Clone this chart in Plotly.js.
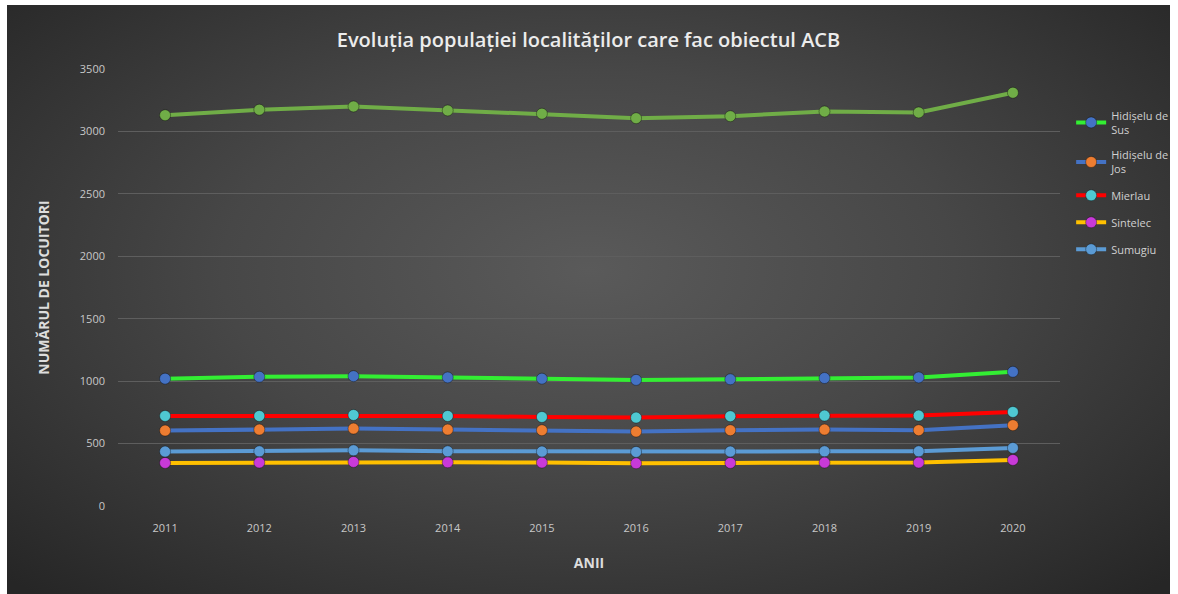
<!DOCTYPE html>
<html>
<head>
<meta charset="utf-8">
<script src="https://cdn.plot.ly/plotly-3.0.1.min.js"></script>
<style>
  html, body { margin: 0; padding: 0; background: #ffffff; width: 1178px; height: 594px; overflow: hidden; }
  #chart {
    position: absolute; left: 7px; top: 5px; width: 1163px; height: 589px;
    background: radial-gradient(ellipse 70% 75% at 50% 45%, #5a5a5a 0%, #474747 45%, #2f2f2f 85%, #262626 100%);
  }
</style>
</head>
<body>
<div id="chart"></div>
<script>
const years = ["2011","2012","2013","2014","2015","2016","2017","2018","2019","2020"];
const total          = [3130, 3174, 3200, 3168, 3142, 3106, 3122, 3160, 3152, 3310];
const hidiseluDeSus  = [1020, 1035, 1040, 1030, 1020, 1010, 1015, 1025, 1030, 1075];
const hidiseluDeJos  = [604, 612, 620, 612, 607, 596, 607, 612, 607, 647];
const mierlau        = [721, 721, 729, 721, 713, 708, 719, 724, 724, 753];
const sintelec       = [345, 348, 353, 350, 348, 342, 345, 348, 348, 369];
const sumugiu        = [436, 438, 446, 438, 436, 433, 436, 438, 438, 465];
const seriesNames = ["Hidișelu de<br>Sus", "Hidișelu de<br>Jos", "Mierlau", "Sintelec", "Sumugiu"];

function tr(name, y, lineColor, markerColor, show, grp) {
  return {
    x: years, y: y, name: name, type: 'scatter', mode: 'lines+markers',
    showlegend: show, legendgroup: grp,
    line: { color: lineColor, width: 4 },
    marker: { color: markerColor, size: 11, line: { color: 'rgba(0,0,0,0.35)', width: 1 } }
  };
}

const data = [
  tr('Total', total, '#70ad47', '#70ad47', false, 'g0'),
  tr(seriesNames[0], hidiseluDeSus, '#33ee33', '#4472c4', true, 'g1'),
  tr(seriesNames[1], hidiseluDeJos, '#4472c4', '#ed7d31', true, 'g2'),
  tr(seriesNames[2], mierlau, '#ff0000', '#4fc8d2', true, 'g3'),
  tr(seriesNames[3], sintelec, '#ffc000', '#c83ad8', true, 'g4'),
  tr(seriesNames[4], sumugiu, '#5b9bd5', '#5b9bd5', true, 'g5')
];

const layout = {
  width: 1163, height: 589,
  paper_bgcolor: 'rgba(0,0,0,0)', plot_bgcolor: 'rgba(0,0,0,0)',
  margin: { l: 111, r: 110, t: 64, b: 88, autoexpand: false },
  font: { family: 'Open Sans, sans-serif', color: '#c8c8c8' },
  title: {
    text: 'Evoluția populației localităților care fac obiectul ACB',
    font: { family: 'Open Sans, sans-serif', size: 20, color: '#ececec', weight: 600 },
    x: 0.5, xanchor: 'center', y: 0.94, yanchor: 'middle'
  },
  xaxis: {
    type: 'category', range: [-0.5, 9.5], automargin: false,
    showgrid: false, zeroline: false, showline: false,
    ticks: '', ticklabelstandoff: 14, tickfont: { size: 11, color: '#c8c8c8' },
    title: { text: '<b>ANII</b>', font: { size: 14, color: '#dddddd' }, standoff: 24 }
  },
  yaxis: {
    range: [0, 3500], dtick: 500, tick0: 0, automargin: false,
    showgrid: true, gridcolor: '#5e5e5e', gridwidth: 1,
    zeroline: false, showline: false, ticks: '',
    ticklabelstandoff: 12, tickfont: { size: 11, color: '#c8c8c8' },
    title: { text: '<b>NUMĂRUL DE LOCUITORI</b>', font: { size: 14, color: '#dddddd' }, standoff: 26 }
  },
  legend: {
    xref: 'container', yref: 'container',
    x: 0.915, xanchor: 'left', y: 0.836, yanchor: 'top',
    bgcolor: 'rgba(0,0,0,0)', font: { size: 11, color: '#d0d0d0' },
    tracegroupgap: 8, itemwidth: 30
  }
};

Plotly.newPlot('chart', data, layout, { displayModeBar: false, staticPlot: true });
</script>
</body>
</html>
